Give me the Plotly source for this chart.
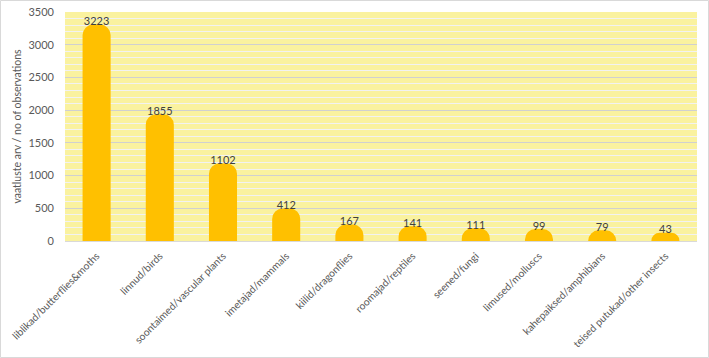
import plotly.graph_objects as go

categories = ["liblikad/butterflies&moths", "linnud/birds", "soontaimed/vascular plants",
              "imetajad/mammals", "kiilid/dragonflies", "roomajad/reptiles", "seened/fungi",
              "limused/molluscs", "kahepaiksed/amphibians", "teised putukad/other insects"]
values = [3223, 1855, 1102, 412, 167, 141, 111, 99, 79, 43]
y_max, y_step, y_minor = 3500, 500, 100

W, H = 709, 358
L, R, T, B = 65, 12, 12, 117
pw, ph = W - L - R, H - T - B
FONT = "Lato"

fig = go.Figure()
fig.add_trace(go.Bar(
    x=categories, y=values, width=0.27,
    marker=dict(color="#FFC000", line=dict(color="#FFC000", width=11), cornerradius=5),
    text=[str(v) for v in values], textposition="outside", constraintext="none",
    textfont=dict(family=FONT, size=11, color="#404040"),
    cliponaxis=False, hoverinfo="skip",
))

fig.update_layout(
    width=W, height=H, margin=dict(l=L, r=R, t=T, b=B),
    paper_bgcolor="white", plot_bgcolor="#FAF29F",
    showlegend=False,
    font=dict(family=FONT, color="#595959"),
)
fig.update_xaxes(
    tickangle=-45, tickfont=dict(size=10.3, color="#595959"), automargin=False,
    showgrid=False, showline=True, linecolor="#D9D9D9", ticks="",
    range=[-0.5, len(categories) - 0.5], ticklabelstandoff=4,
)
fig.update_yaxes(
    range=[0, y_max], tick0=0, dtick=y_step, tickfont=dict(size=11, color="#595959"),
    automargin=False,
    showgrid=True, gridcolor="#D0D0D0", gridwidth=1,
    minor=dict(dtick=y_minor, tick0=0, showgrid=True, gridcolor="#F2F2F2", gridwidth=1),
    zeroline=False, ticklabelstandoff=10,
    title=dict(text="vaatluste arv / no of observations", font=dict(size=10.5, color="#595959"), standoff=4),
)
fig.add_shape(type="rect", xref="paper", yref="paper",
              x0=-(L - 0.5) / pw, x1=(pw + R - 0.5) / pw,
              y0=-(B - 0.5) / ph, y1=(ph + T - 0.5) / ph,
              line=dict(color="#D9D9D9", width=1), layer="below")
fig.write_html("out.html", config={"displayModeBar": False},
               post_script="document.body.style.margin='0';")
